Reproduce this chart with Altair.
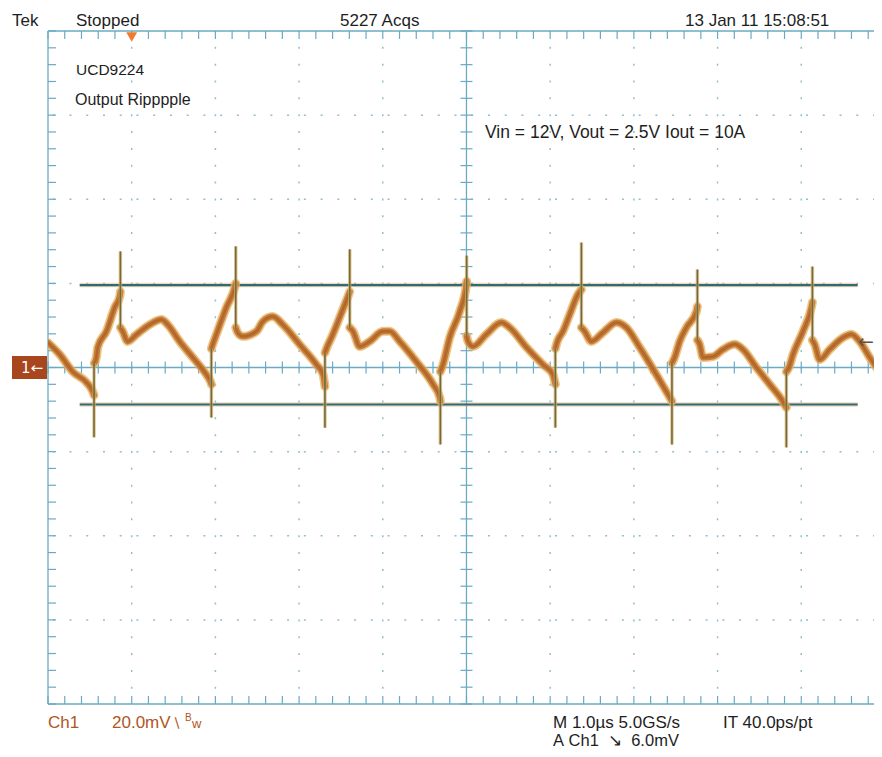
import altair as alt
import numpy as np
import pandas as pd

# ---------------- screen geometry (1 µs/div, 20 mV/div) ----------------
X_MAX = 9.869          # visible part of the 10-division screen, µs from left edge
Y_MIN, Y_MAX = -80.0, 80.0
PLOT_W, PLOT_H = 826, 673

# ---------------- trace, split where the beam moves fast ----------------
TRACE_T = [
    [0.000, 0.140, 0.295, 0.462, 0.534, 0.550],
    [0.552, 0.578, 0.594, 0.698, 0.797, 0.857, 0.865],
    [0.865, 0.892, 0.952, 1.060, 1.215, 1.355, 1.430, 1.573, 1.729, 1.892, 1.940, 1.952],
    [1.952, 1.968, 2.012, 2.131, 2.231, 2.243],
    [2.243, 2.266, 2.326, 2.490, 2.565, 2.685, 2.805, 3.006, 3.207, 3.286, 3.306, 3.309],
    [3.309, 3.333, 3.386, 3.485, 3.584, 3.605],
    [3.605, 3.644, 3.724, 3.844, 4.002, 4.082, 4.202, 4.401, 4.600, 4.680, 4.688],
    [4.688, 4.719, 4.799, 4.919, 4.999, 5.002],
    [5.002, 5.018, 5.078, 5.238, 5.417, 5.516, 5.716, 5.914, 6.033, 6.054, 6.062],
    [6.062, 6.086, 6.153, 6.233, 6.332, 6.373],
    [6.373, 6.412, 6.492, 6.631, 6.791, 6.910, 7.069, 7.269, 7.428, 7.455],
    [7.455, 7.487, 7.547, 7.627, 7.747, 7.759],
    [7.759, 7.786, 7.826, 7.945, 8.065, 8.204, 8.303, 8.464, 8.623, 8.781, 8.822],
    [8.822, 8.853, 8.901, 9.020, 9.121, 9.133],
    [9.133, 9.160, 9.220, 9.339, 9.498, 9.598, 9.697, 9.817, 9.960],
]
TRACE_MV = [
    [5.9, 3.1, -1.0, -3.6, -5.7, -6.6],
    [1.0, 2.4, 4.8, 8.6, 14.3, 16.9, 18.0],
    [9.5, 8.6, 6.2, 7.9, 10.2, 11.4, 10.2, 6.2, 2.4, -1.7, -3.3, -4.0],
    [4.5, 5.5, 7.9, 14.3, 19.0, 20.0],
    [9.5, 8.3, 7.4, 8.6, 10.9, 12.1, 10.2, 5.5, 0.7, -1.7, -4.0, -4.5],
    [3.5, 4.8, 7.1, 11.9, 16.9, 18.0],
    [9.5, 8.6, 5.0, 6.2, 8.6, 8.6, 6.2, 1.4, -4.0, -7.1, -8.0],
    [-1.0, 0.7, 7.1, 13.3, 19.7, 20.5],
    [7.5, 6.2, 5.0, 7.9, 10.7, 9.5, 4.8, 0.7, -1.7, -3.3, -4.0],
    [4.5, 6.2, 8.6, 12.6, 17.4, 18.5],
    [9.5, 8.6, 6.2, 8.3, 10.7, 9.5, 4.8, -1.7, -7.1, -8.0],
    [1.0, 2.4, 6.2, 9.5, 13.3, 14.5],
    [6.5, 5.5, 2.4, 2.6, 4.3, 5.5, 4.3, 0.0, -4.0, -8.1, -9.5],
    [-1.0, 0.0, 3.1, 8.6, 14.3, 15.5],
    [6.5, 5.5, 1.9, 4.3, 7.1, 7.9, 6.2, 2.4, -1.7],
]

# switching spikes (thin, fast edges)
SPIKE_T  = [0.550, 1.952, 3.309, 4.688, 6.062, 7.455, 8.822,
            0.865, 2.243, 3.605, 5.002, 6.373, 7.759, 9.133]
SPIKE_LO = [-16.6, -11.9, -14.3, -18.3, -14.3, -18.3, -19.0,
            9.5, 9.5, 9.5, 7.5, 9.5, 6.5, 6.5]
SPIKE_HI = [1.0, 4.5, 3.5, -1.0, 4.5, 1.0, -1.0,
            27.6, 28.8, 28.1, 26.6, 29.7, 23.3, 24.0]

# horizontal cursors
CURSOR_MV = [19.6, -8.8]
CURSOR_T0, CURSOR_T1 = 0.379, 9.674

TRIG_T = 1.0      # trigger position marker
TRIG_MV = 6.0     # trigger level

GRID_COL = "#6aaac2"
DOT_COL = "#8cc0d2"
FONT = "Liberation Sans"
TXT_COL = "#1e1e1e"
CH_COL = "#b0561e"

xs = alt.Scale(domain=[0, X_MAX], nice=False, zero=False)
ys = alt.Scale(domain=[Y_MIN, Y_MAX], nice=False, zero=False)


def X(f):
    return alt.X(f, type="quantitative", scale=xs, axis=None)


def Y(f):
    return alt.Y(f, type="quantitative", scale=ys, axis=None)


# ---------------- graticule ----------------
dot_v = pd.DataFrame({"t": [1, 2, 3, 4, 6, 7, 8, 9]})
dot_h = pd.DataFrame({"v": [-60, -40, -20, 20, 40, 60]})
grid_dot_v = alt.Chart(dot_v).mark_rule(color=DOT_COL, strokeWidth=1.5,
                                        strokeDash=[2, 14.84], strokeDashOffset=1).encode(x=X("t"))
grid_dot_h = alt.Chart(dot_h).mark_rule(color=DOT_COL, strokeWidth=1.5,
                                        strokeDash=[2, 14.74], strokeDashOffset=1).encode(y=Y("v"))

solid_v = pd.DataFrame({"t": [0.0, 5.0]})
solid_h = pd.DataFrame({"v": [Y_MAX, 0.0, Y_MIN]})
grid_solid_v = alt.Chart(solid_v).mark_rule(color=GRID_COL, strokeWidth=1.3).encode(x=X("t"))
grid_solid_h = alt.Chart(solid_h).mark_rule(color=GRID_COL, strokeWidth=1.3).encode(y=Y("v"))

mv_per_px = (Y_MAX - Y_MIN) / PLOT_H
us_per_px = X_MAX / PLOT_W
rows = []
for t in np.arange(0, X_MAX, 0.2):
    rows.append((t, t, Y_MAX, Y_MAX - 8 * mv_per_px))
    rows.append((t, t, Y_MIN, Y_MIN + 8 * mv_per_px))
    rows.append((t, t, -6 * mv_per_px, 6 * mv_per_px))
for v in np.arange(Y_MIN, Y_MAX + 0.1, 4.0):
    rows.append((0.0, 8 * us_per_px, v, v))
    rows.append((5.0 - 6 * us_per_px, 5.0 + 6 * us_per_px, v, v))
ticks = pd.DataFrame(rows, columns=["x", "x2", "y", "y2"])
tick_layer = alt.Chart(ticks).mark_rule(color=GRID_COL, strokeWidth=1.2).encode(
    x=X("x"), x2="x2", y=Y("y"), y2="y2")

# ---------------- cursors ----------------
cur = pd.DataFrame({"v": CURSOR_MV, "t0": CURSOR_T0, "t1": CURSOR_T1})
cursor_halo = alt.Chart(cur).mark_rule(color="#e3a878", strokeWidth=4.5, opacity=0.45).encode(
    x=X("t0"), x2="t1", y=Y("v"))
cursor_line = alt.Chart(cur).mark_rule(color="#2f6c72", strokeWidth=2.2).encode(
    x=X("t0"), x2="t1", y=Y("v"))

# ---------------- trace ----------------
recs = []
i = 0
for s, (ts, vs) in enumerate(zip(TRACE_T, TRACE_MV)):
    for t, v in zip(ts, vs):
        recs.append({"t": t, "v": v, "seg": s, "i": i})
        i += 1
trace = pd.DataFrame(recs)


def trace_layer(color, width, opacity):
    return alt.Chart(trace).mark_line(
        color=color, strokeWidth=width, opacity=opacity, clip=True,
        strokeJoin="round", strokeCap="round", interpolate="monotone").encode(
        x=X("t"), y=Y("v"), detail="seg:N", order="i:Q")


trace_base = trace_layer("#e4b462", 9.0, 0.75)
trace_mid = trace_layer("#c47632", 6.0, 0.9)
trace_core = trace_layer("#9e5420", 2.5, 0.55)

spikes = pd.DataFrame({"t": SPIKE_T, "lo": SPIKE_LO, "hi": SPIKE_HI})
spike_halo = alt.Chart(spikes).mark_rule(color="#e0ac60", strokeWidth=3.5, opacity=0.7).encode(
    x=X("t"), y=Y("lo"), y2="hi")
spike_layer = alt.Chart(spikes).mark_rule(color="#6a6c44", strokeWidth=1.6).encode(
    x=X("t"), y=Y("lo"), y2="hi")

# ---------------- markers ----------------
trig_pos = alt.Chart(pd.DataFrame({"t": [TRIG_T], "v": [Y_MAX - 6 * mv_per_px]})).mark_point(
    shape="triangle-down", filled=True, size=120, color="#f07a30", opacity=1).encode(
    x=X("t"), y=Y("v"))
trig_lvl = alt.Chart(pd.DataFrame({"t": [X_MAX], "v": [TRIG_MV], "s": ["\u2190"]})).mark_text(
    align="right", baseline="middle", fontSize=19, color="#6a5040", font="DejaVu Sans").encode(
    x=X("t"), y=Y("v"), text="s:N")

ch_box = alt.Chart(pd.DataFrame({"a": [1]})).mark_rect(color="#a8461e").encode(
    x=alt.value(-36), x2=alt.value(-1),
    y=alt.datum(11.5 * mv_per_px, scale=ys), y2=alt.datum(-11.5 * mv_per_px))
ch_txt = alt.Chart(pd.DataFrame({"s": ["1\u2190"]})).mark_text(
    align="left", baseline="middle", fontSize=15, color="white", font="DejaVu Sans").encode(
    x=alt.value(-27), y=alt.datum(0, scale=ys), text="s:N")


# ---------------- text ----------------
def txt(s, x, y, color=TXT_COL, size=17, align="left", font=FONT):
    return alt.Chart(pd.DataFrame({"s": [s]})).mark_text(
        align=align, baseline="alphabetic", fontSize=size, color=color, font=font).encode(
        x=alt.value(x), y=alt.value(y), text="s:N")


NB = "\u00a0"
texts = [
    txt("Tek", -36, -5),
    txt("Stopped", 28, -5),
    txt("5227 Acqs", 292, -5),
    txt("13 Jan 11 15:08:51", 637, -5),
    txt("UCD9224", 28, 44, size=15.5),
    txt("Output Ripppple", 27, 74, size=16),
    txt("Vin = 12V, Vout = 2.5V Iout = 10A", 437, 107, size=17.5),
    txt("Ch1", 0, 697, color=CH_COL),
    txt("20.0mV", 64, 697, color=CH_COL),
    txt("\u2216", 124, 697, color=CH_COL, size=14, font="DejaVu Sans"),
    txt("B", 137, 690, color=CH_COL, size=10),
    txt("w", 144, 697, color=CH_COL, size=13),
    txt("M 1.0\u00b5s 5.0GS/s", 505, 697),
    txt("IT 40.0ps/pt", 675, 697),
    txt("A" + NB + "Ch1" + NB + NB + "\u2198" + NB + NB + "6.0mV", 505, 715, size=16.5),
]

chart = alt.layer(
    grid_dot_v, grid_dot_h, grid_solid_v, grid_solid_h, tick_layer,
    cursor_halo, cursor_line,
    trace_base, trace_mid, trace_core, spike_halo, spike_layer,
    trig_pos, trig_lvl, ch_box, ch_txt, *texts,
).properties(
    width=PLOT_W, height=PLOT_H,
    padding={"left": 40, "top": 23, "right": 0, "bottom": 44},
    autosize=alt.AutoSizeParams(type="none"),
    background="white",
).configure_view(stroke=None)

chart.save("out.html", embed_options={"renderer": "svg", "actions": False})
